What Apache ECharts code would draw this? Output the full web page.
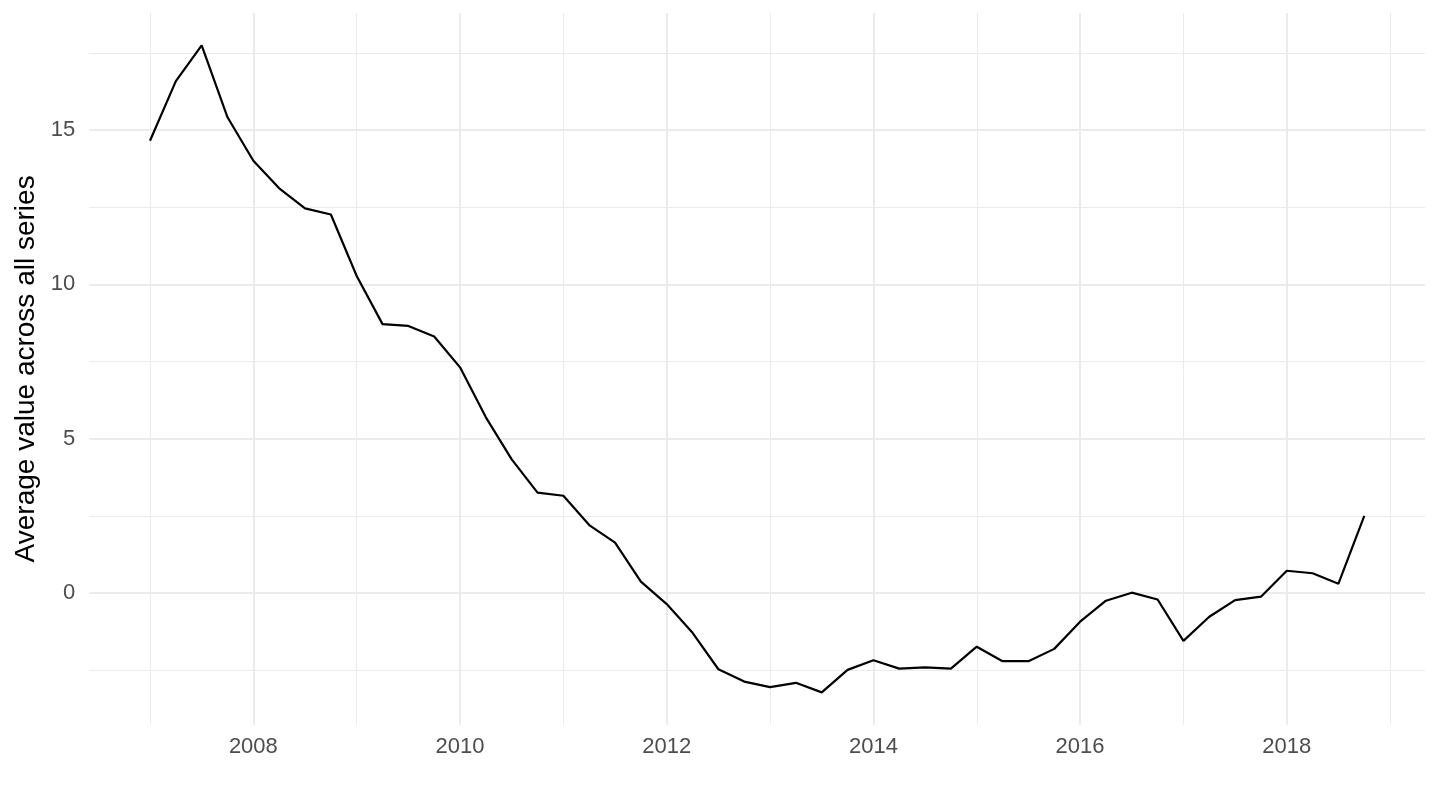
<!DOCTYPE html>
<html>
<head>
<meta charset="utf-8">
<script src="https://cdn.jsdelivr.net/npm/echarts@6/dist/echarts.min.js"></script>
<style>
html, body { margin: 0; padding: 0; background: #ffffff; }
#chart { width: 1440px; height: 810px; }
</style>
</head>
<body>
<div id="chart"></div>
<script>
// Quarterly dates (decimal years)
const quarters = [
  2007.00, 2007.25, 2007.50, 2007.75,
  2008.00, 2008.25, 2008.50, 2008.75,
  2009.00, 2009.25, 2009.50, 2009.75,
  2010.00, 2010.25, 2010.50, 2010.75,
  2011.00, 2011.25, 2011.50, 2011.75,
  2012.00, 2012.25, 2012.50, 2012.75,
  2013.00, 2013.25, 2013.50, 2013.75,
  2014.00, 2014.25, 2014.50, 2014.75,
  2015.00, 2015.25, 2015.50, 2015.75,
  2016.00, 2016.25, 2016.50, 2016.75,
  2017.00, 2017.25, 2017.50, 2017.75,
  2018.00, 2018.25, 2018.50, 2018.75
];

// Average value across all series
const avgValues = [
  14.65, 16.58, 17.74, 15.41,
  14.00, 13.11, 12.46, 12.26,
  10.27, 8.71, 8.65, 8.31,
  7.31, 5.69, 4.33, 3.25,
  3.15, 2.20, 1.63, 0.37,
  -0.36, -1.29, -2.47, -2.87,
  -3.05, -2.91, -3.22, -2.49,
  -2.18, -2.45, -2.41, -2.45,
  -1.74, -2.21, -2.21, -1.81,
  -0.93, -0.25, 0.01, -0.21,
  -1.55, -0.77, -0.23, -0.12,
  0.72, 0.64, 0.30, 2.50
];

const xTickLabels = [2008, 2010, 2012, 2014, 2016, 2018];
const yTickLabels = [0, 5, 10, 15];
const yAxisTitle = 'Average value across all series';

// ggplot-style 5% expansion of the data range
function expand(arr) {
  const lo = Math.min.apply(null, arr), hi = Math.max.apply(null, arr);
  const pad = (hi - lo) * 0.05;
  return [lo - pad, hi + pad];
}
const xr = expand(quarters);
const yr = expand(avgValues);

const seriesData = quarters.map((q, i) => [q, avgValues[i]]);

const FONT = '"Liberation Sans", Arial, Helvetica, sans-serif';
const GRID = '#EBEBEB';

const chart = echarts.init(document.getElementById('chart'), null, { renderer: 'canvas' });
chart.setOption({
  animation: false,
  backgroundColor: '#ffffff',
  grid: { left: 89.3, right: 15, top: 13, bottom: 85.25, containLabel: false },
  xAxis: {
    type: 'value',
    min: xr[0], max: xr[1],
    minInterval: 2, maxInterval: 2,
    axisLine: { show: false },
    axisTick: { show: false },
    minorTick: { show: false, splitNumber: 2 },
    axisLabel: {
      show: true, margin: 11, color: '#4D4D4D', fontSize: 22, fontFamily: FONT,
      showMinLabel: false, showMaxLabel: false,
      formatter: v => (xTickLabels.indexOf(Math.round(v * 1000) / 1000) >= 0 ? String(v) : '')
    },
    splitLine: { show: true, showMinLine: false, showMaxLine: false, lineStyle: { color: GRID, width: 2 } },
    minorSplitLine: { show: true, lineStyle: { color: GRID, width: 1 } }
  },
  yAxis: {
    type: 'value',
    min: yr[0], max: yr[1],
    minInterval: 5, maxInterval: 5,
    name: yAxisTitle,
    nameLocation: 'middle',
    nameGap: 48,
    nameTextStyle: { color: '#000000', fontSize: 28, fontFamily: FONT },
    axisLine: { show: false },
    axisTick: { show: false },
    minorTick: { show: false, splitNumber: 2 },
    axisLabel: {
      show: true, margin: 14, color: '#4D4D4D', fontSize: 22, fontFamily: FONT,
      showMinLabel: false, showMaxLabel: false,
      formatter: v => (yTickLabels.indexOf(Math.round(v * 1000) / 1000) >= 0 ? String(v) : '')
    },
    splitLine: { show: true, showMinLine: false, showMaxLine: false, lineStyle: { color: GRID, width: 2 } },
    minorSplitLine: { show: true, lineStyle: { color: GRID, width: 1 } }
  },
  series: [{
    type: 'line',
    data: seriesData,
    showSymbol: false,
    symbol: 'none',
    lineStyle: { color: '#000000', width: 2.2 },
    z: 5
  }]
});
</script>
</body>
</html>
